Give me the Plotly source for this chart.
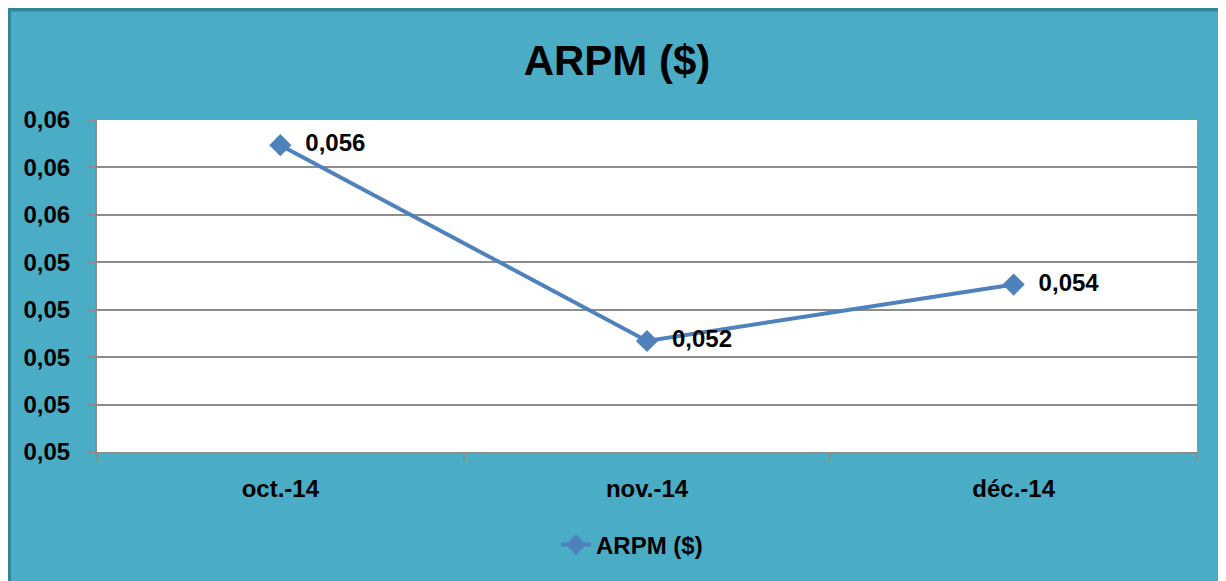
import plotly.graph_objects as go

months = ["oct.-14", "nov.-14", "déc.-14"]
arpm = [0.05647, 0.05234, 0.05353]
series_name = "ARPM ($)"
y_tickvals = [0.050, 0.051, 0.052, 0.053, 0.054, 0.055, 0.056, 0.057]
y_ticktext = ["0,05", "0,05", "0,05", "0,05", "0,05", "0,06", "0,06", "0,06"]

TEAL = "#4BACC6"
BORDER = "#31859C"
LINE = "#4F81BD"
GRID = "#8C8C8C"
FONT = "Liberation Sans"

OFF = 8  # page body margin
W, H = 1226, 581
# desired plot area in page pixels
PX0, PX1, PY0, PY1 = 97, 1197, 120, 452
L, T = PX0 - OFF, PY0 - OFF
R, B = W + OFF - PX1, H + OFF - PY1
pw, ph = PX1 - PX0, PY1 - PY0


def px_x(px):
    return (px - PX0) / pw


def px_y(py):
    return (PY1 - py) / ph


fig = go.Figure()
fig.add_trace(go.Scatter(
    x=months, y=arpm, name=series_name, mode="lines+markers+text",
    line=dict(color=LINE, width=4),
    marker=dict(symbol="diamond", size=17, color=LINE),
    texttemplate="  %{y:.3f}", textposition="middle right",
    textfont=dict(family=FONT, size=24, color="black", weight="bold"),
    cliponaxis=False,
))

fig.add_shape(type="rect", xref="paper", yref="paper", layer="below",
              x0=px_x(9), x1=px_x(1224), y0=px_y(640), y1=px_y(9.5),
              fillcolor=TEAL, line=dict(color=BORDER, width=4))
fig.add_shape(type="rect", xref="paper", yref="paper", layer="below",
              x0=0, x1=1, y0=0, y1=1,
              fillcolor="white", line=dict(width=0))

fig.update_layout(
    width=W, height=H,
    margin=dict(l=L, r=R, t=T, b=B, autoexpand=False),
    paper_bgcolor="white", plot_bgcolor="white",
    separators=",.",
    title=dict(text="<b>ARPM ($)</b>", x=(617 - OFF) / W, xanchor="center",
               y=1 - (60 - OFF) / H, yanchor="middle",
               font=dict(family=FONT, size=42, color="black")),
    showlegend=True,
    legend=dict(orientation="h", x=px_x(632), xanchor="center",
                y=px_y(545), yanchor="middle", bgcolor="rgba(0,0,0,0)",
                font=dict(family=FONT, size=24, color="black", weight="bold")),
    xaxis=dict(type="category", range=[-0.5, 2.5], tickson="boundaries",
               ticks="outside", ticklen=7, tickwidth=2, tickcolor=GRID,
               showline=True, linecolor=GRID, linewidth=2, showgrid=False,
               ticklabelstandoff=14,
               tickfont=dict(family=FONT, size=24, color="black", weight="bold")),
    yaxis=dict(range=[0.050, 0.057], tickvals=y_tickvals, ticktext=y_ticktext,
               ticks="outside", ticklen=8, tickwidth=2, tickcolor=GRID,
               showline=True, linecolor=GRID, linewidth=2,
               showgrid=True, gridcolor=GRID, gridwidth=1.5, zeroline=False,
               ticklabelstandoff=12,
               tickfont=dict(family=FONT, size=24, color="black", weight="bold")),
)

fig.write_html("out.html")
